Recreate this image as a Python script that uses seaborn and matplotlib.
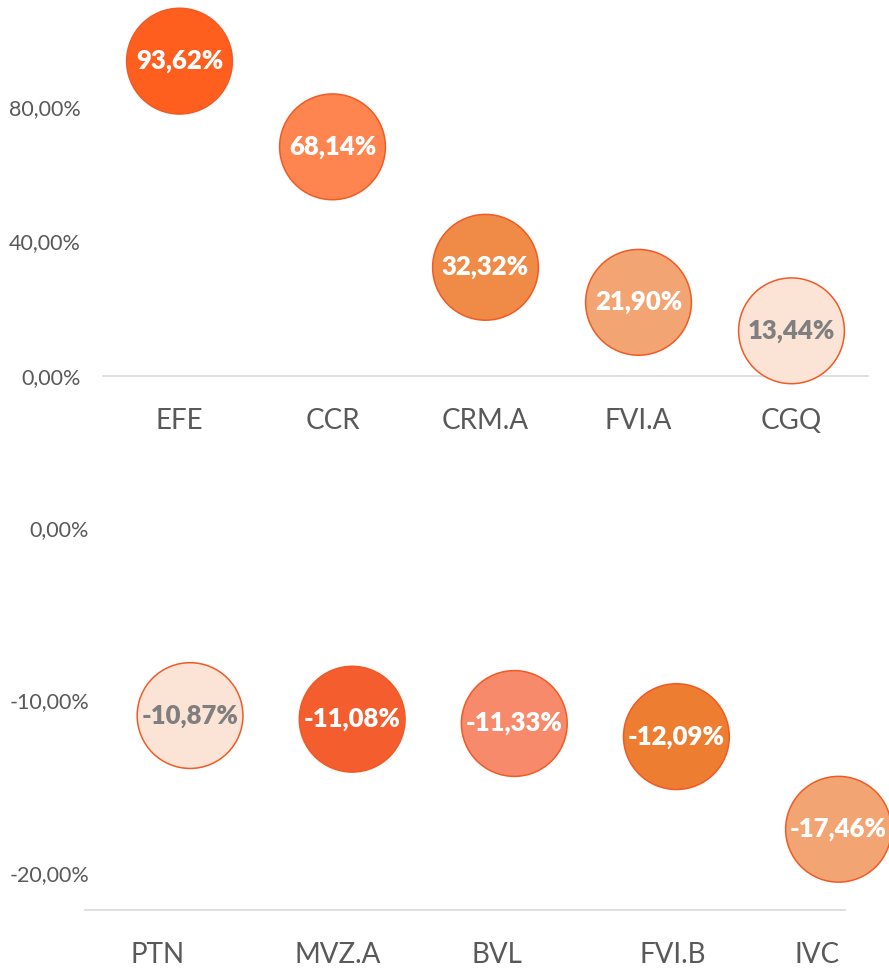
import pandas as pd
import matplotlib
matplotlib.use("Agg")
import matplotlib.pyplot as plt
import seaborn as sns

# ============================================================
# DATA
# ============================================================

top_names   = ["EFE", "CCR", "CRM.A", "FVI.A", "CGQ"]
top_values  = [93.62, 68.14, 32.32, 21.90, 13.44]
top_colors  = ["#FF5F1E", "#FF8550", "#EF8B46", "#F2A472", "#FBE4D6"]

bot_names   = ["PTN", "MVZ.A", "BVL", "FVI.B", "IVC"]
bot_values  = [-10.87, -11.08, -11.33, -12.09, -17.46]
bot_colors  = ["#FBE4D6", "#F45D2D", "#F78A6B", "#ED7D31", "#F2A472"]

top_yticks  = [0, 40, 80]
bot_yticks  = [0, -10, -20]

# ============================================================
# STYLE
# ============================================================

W, H        = 889, 969
EDGE        = "#F15A24"
GRID_GRAY   = "#D9D9D9"
TEXT_GRAY   = "#595959"
LIGHT_TEXT  = "#7F7F7F"
BUBBLE_S    = 5800
# bottom category labels are not centred under the bubbles in the original
BOT_LABEL_SHIFT = [-0.20, -0.09, -0.11, -0.02, -0.13]

sns.set_theme(style="white")
plt.rcParams["font.family"] = ["Lato", "DejaVu Sans"]


def pct(v):
    return f"{v:.2f}%".replace(".", ",")


def bubble_panel(ax, names, values, colors, yticks, label_pos, ypad, xpad):
    df = pd.DataFrame({"x": range(len(names)), "y": values, "name": names})
    sns.scatterplot(data=df, x="x", y="y", hue="name",
                    palette=dict(zip(names, colors)), s=BUBBLE_S,
                    edgecolor=EDGE, linewidth=1.1, legend=False,
                    ax=ax, zorder=3)
    for c in ax.collections:
        c.set_clip_on(False)

    for i, (v, col) in enumerate(zip(values, colors)):
        txt_col = LIGHT_TEXT if col == "#FBE4D6" else "white"
        ax.text(i, v, pct(v), ha="center", va="center", fontsize=18.5,
                fontweight="heavy", color=txt_col, zorder=4, clip_on=False)

    ax.set_yticks(yticks)
    ax.set_yticklabels([pct(t) for t in yticks], fontsize=15.5, color=TEXT_GRAY)
    ax.set_xticks(label_pos)
    ax.set_xticklabels(names, fontsize=20, color=TEXT_GRAY)
    ax.tick_params(axis="both", length=0)
    ax.tick_params(axis="x", pad=xpad)
    ax.tick_params(axis="y", pad=ypad)
    ax.set_xlabel("")
    ax.set_ylabel("")
    for side in ["top", "right", "left"]:
        ax.spines[side].set_visible(False)
    ax.spines["bottom"].set_color(GRID_GRAY)
    ax.spines["bottom"].set_linewidth(1.2)


fig = plt.figure(figsize=(W / 100, H / 100), dpi=100)

# top panel: axis from x=103 to 868 px, zero line at y=376 px
ax1 = fig.add_axes([103 / W, (H - 376) / H, 765 / W, 376 / H])
bubble_panel(ax1, top_names, top_values, top_colors, top_yticks,
             list(range(len(top_names))), ypad=16, xpad=23)
ax1.set_xlim(-0.5, 4.5)
ax1.set_ylim(0, 111.8)

# bottom panel: axis from x=85 to 845 px, bottom line at y=910 px
ax2 = fig.add_axes([85 / W, (H - 910) / H, 760 / W, (910 - 493) / H])
bubble_panel(ax2, bot_names, bot_values, bot_colors, bot_yticks,
             [i + d for i, d in enumerate(BOT_LABEL_SHIFT)], ypad=-3, xpad=23)
ax2.set_xlim(-0.648, 4.04)
ax2.set_ylim(-22.14, 2.03)

fig.savefig("out.png", dpi=100)
